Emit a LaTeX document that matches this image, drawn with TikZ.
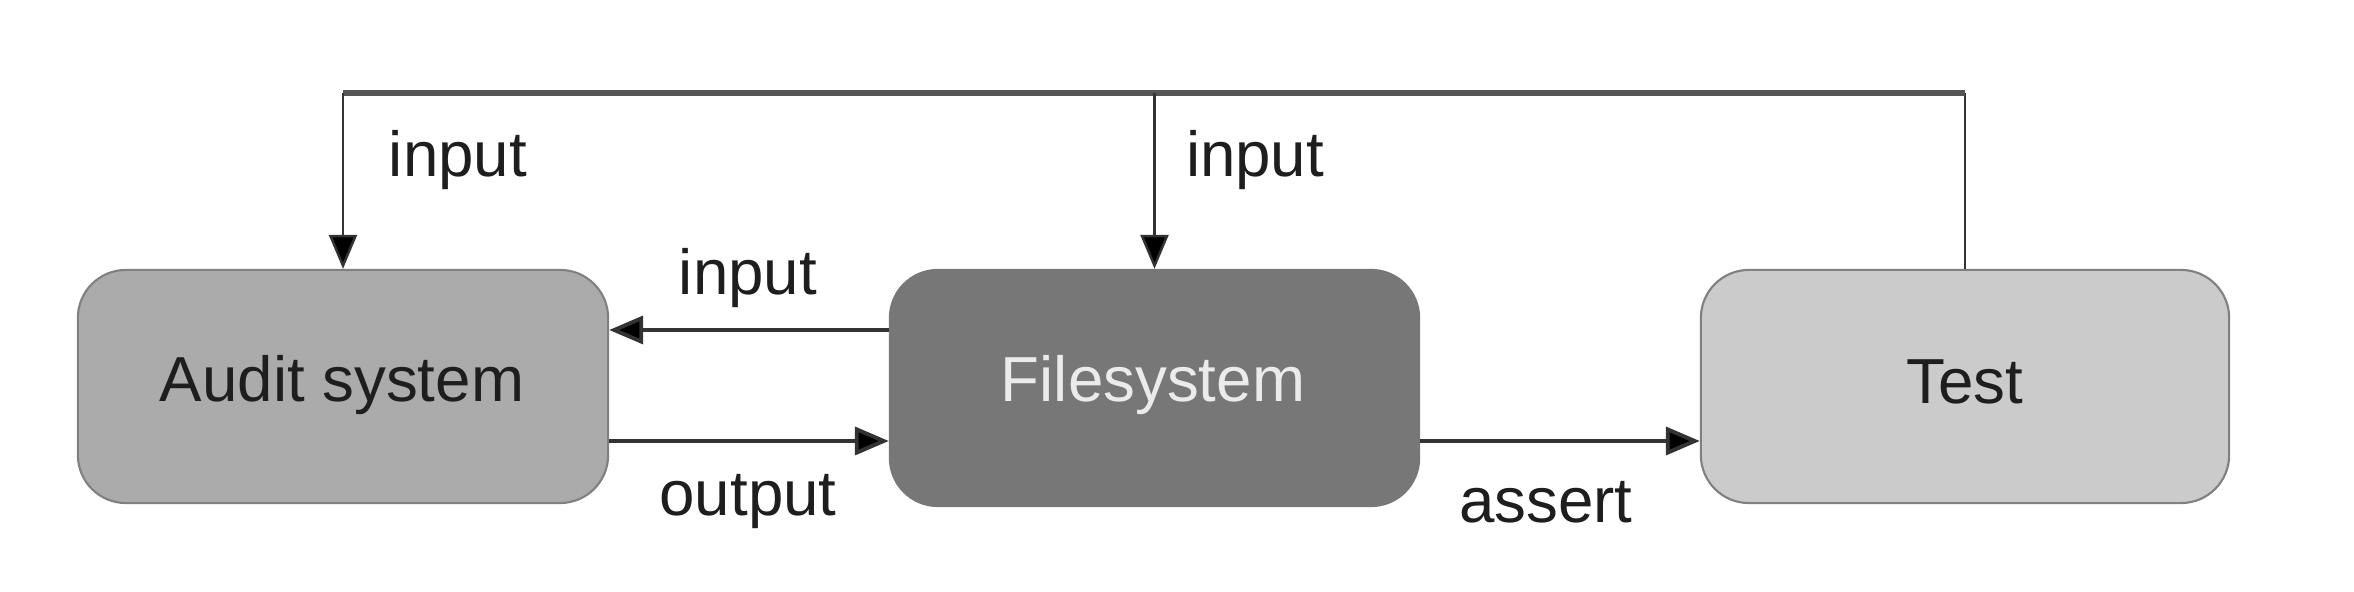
\documentclass[tikz,border=0pt]{standalone}
\usepackage{fontspec}
\setmainfont{Liberation Sans}
\usetikzlibrary{arrows.meta}
\definecolor{auditfill}{HTML}{ABABAB}
\definecolor{fsfill}{HTML}{777777}
\definecolor{testfill}{HTML}{CBCBCB}
\definecolor{boxline}{HTML}{808080}
\definecolor{lineclr}{HTML}{333333}
\definecolor{topclr}{HTML}{555555}
\definecolor{txt}{HTML}{1E1E1E}
\begin{document}
\begin{tikzpicture}[x=0.01cm,y=-0.01cm,
  every node/.style={font=\fontsize{18.1}{21}\selectfont, text=txt},
  box/.style={draw=boxline, line width=0.6pt, rounded corners=0.48cm, inner sep=0pt},
  conn/.style={draw=lineclr, line width=1.1pt},
  thinconn/.style={draw=lineclr, line width=0.7pt},
  topline/.style={draw=topclr, line width=1.6pt},
  tip/.style={-{Triangle[length=0.34cm,width=0.28cm,fill=black]}},
  lbl/.style={inner sep=0pt}]
\path[use as bounding box] (0,0) rectangle (2354,592);
\node[box, fill=auditfill, minimum width=5.3cm, minimum height=2.33cm] (audit) at (343,386.5) {};
\node[box, fill=fsfill, draw=fsfill, minimum width=5.29cm, minimum height=2.36cm] (fs) at (1154.5,388) {};
\node[box, fill=testfill, minimum width=5.28cm, minimum height=2.33cm] (test) at (1965,386.5) {};
\node[lbl] (audittxt) at (342,385) {Audit system};
\node[lbl, text=white!92!black] (fstxt) at (1153,385) {Filesystem};
\node[lbl] (testtxt) at (1965,382) {Test};
\coordinate (tl) at (343,93);
\coordinate (tm) at (1154.5,93);
\coordinate (tr) at (1965,93);
\draw[thinconn] (test.north) -- (tr);
\draw[topline] (tr) -- (tl);
\draw[thinconn, tip] (tl) -- (audit.north);
\draw[thinconn, tip] (tm) -- (fs.north);
\draw[conn, tip] (fs.west |- 0,330) -- (audit.east |- 0,330);
\draw[conn, tip] (audit.east |- 0,441) -- (fs.west |- 0,441);
\draw[conn, tip] (fs.east |- 0,441) -- (test.west |- 0,441);
\node[lbl] (l1) at (458,160) {input};
\node[lbl] (l2) at (1255,160) {input};
\node[lbl] (l3) at (748,278) {input};
\node[lbl] (l4) at (748,502) {output};
\node[lbl] (l5) at (1546,502) {assert};
\end{tikzpicture}
\end{document}
